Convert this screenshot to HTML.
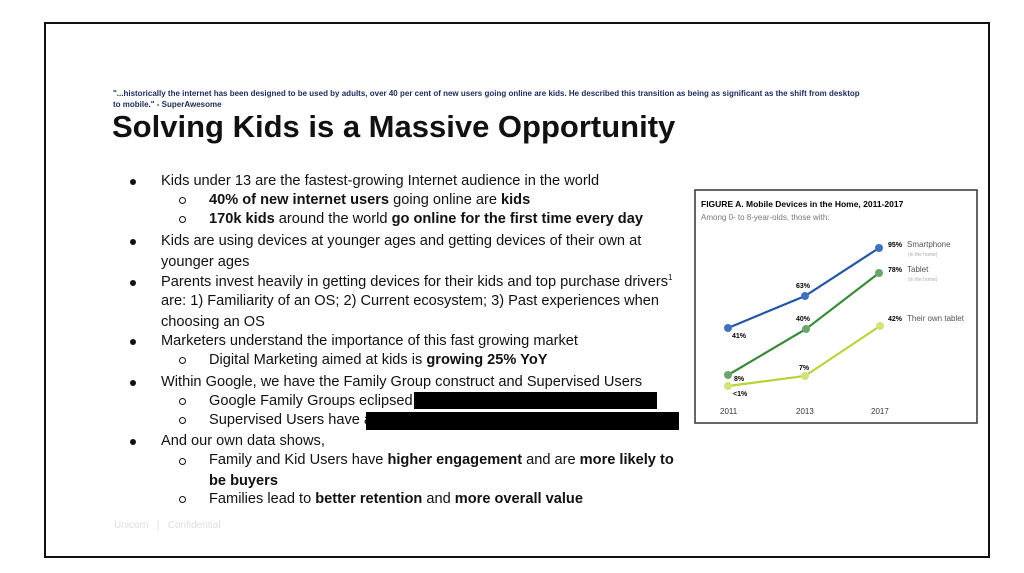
<!DOCTYPE html>
<html><head><style>
body{margin:0;width:1024px;height:573px;background:#fff;position:relative;overflow:hidden;font-family:"Liberation Sans",sans-serif;color:#111}
.frame{position:absolute;left:44px;top:22px;width:942px;height:532px;border:2px solid #111;border-left-width:2px}
.t{position:absolute;white-space:nowrap;font-size:14.6px;line-height:18px}
.b{position:absolute;width:6px;height:6px;border-radius:50%;background:#111}
.c{position:absolute;width:5px;height:5px;border-radius:50%;border:1.3px solid #111}
.r{position:absolute;background:#000}
sup{font-size:8px;line-height:0;vertical-align:6px}
</style></head><body>
<div class="frame"></div>
<div class="t" style="left:113px;top:88px;font-size:8px;line-height:11px;color:#1a2a5a;font-weight:bold">"...historically the internet has been designed to be used by adults, over 40 per cent of new users going online are kids. He described this transition as being as significant as the shift from desktop<br>to mobile." - SuperAwesome</div>
<div class="t" style="left:112px;top:108px;font-size:31px;line-height:38px;font-weight:bold">Solving Kids is a Massive Opportunity</div>

<div class="b" style="left:130px;top:179px"></div><div class="t" style="left:161px;top:172px">Kids under 13 are the fastest-growing Internet audience in the world</div>
<div class="c" style="left:179px;top:197px"></div><div class="t" style="left:209px;top:191px"><b>40% of new internet users</b> going online are <b>kids</b></div>
<div class="c" style="left:179px;top:216px"></div><div class="t" style="left:209px;top:210px"><b>170k kids</b> around the world <b>go online for the first time every day</b></div>
<div class="b" style="left:130px;top:239px"></div><div class="t" style="left:161px;top:232px">Kids are using devices at younger ages and getting devices of their own at</div>
<div class="t" style="left:161px;top:253px">younger ages</div>
<div class="b" style="left:130px;top:280px"></div><div class="t" style="left:161px;top:273px">Parents invest heavily in getting devices for their kids and top purchase drivers<sup>1</sup></div>
<div class="t" style="left:161px;top:292px">are: 1) Familiarity of an OS; 2) Current ecosystem; 3) Past experiences when</div>
<div class="t" style="left:161px;top:313px">choosing an OS</div>
<div class="b" style="left:130px;top:339px"></div><div class="t" style="left:161px;top:332px">Marketers understand the importance of this fast growing market</div>
<div class="c" style="left:179px;top:357px"></div><div class="t" style="left:209px;top:351px">Digital Marketing aimed at kids is <b>growing 25% YoY</b></div>
<div class="b" style="left:130px;top:380px"></div><div class="t" style="left:161px;top:373px">Within Google, we have the Family Group construct and Supervised Users</div>
<div class="c" style="left:179px;top:398px"></div><div class="t" style="left:209px;top:392px">Google Family Groups eclipsed</div>
<div class="r" style="left:414px;top:392px;width:243px;height:17px"></div>
<div class="c" style="left:179px;top:417px"></div><div class="t" style="left:209px;top:411px">Supervised Users have a</div>
<div class="r" style="left:366px;top:412px;width:313px;height:18px"></div>
<div class="b" style="left:130px;top:439px"></div><div class="t" style="left:161px;top:432px">And our own data shows,</div>
<div class="c" style="left:179px;top:458px"></div><div class="t" style="left:209px;top:451px">Family and Kid Users have <b>higher engagement</b> and are <b>more likely to</b></div>
<div class="t" style="left:209px;top:472px"><b>be buyers</b></div>
<div class="c" style="left:179px;top:496px"></div><div class="t" style="left:209px;top:490px">Families lead to <b>better retention</b> and <b>more overall value</b></div>
<div class="t" style="left:114px;top:517px;font-size:10px;color:#ddd">Unicorn &nbsp; | &nbsp; Confidential</div>

<svg style="position:absolute;left:0;top:0" width="1024" height="573">
<rect x="695" y="190" width="282" height="233" fill="#fff" stroke="#333" stroke-width="1.5"/>
<text x="701" y="207" font-size="8.5" font-weight="bold" font-family="Liberation Sans">FIGURE A. Mobile Devices in the Home, 2011-2017</text>
<text x="701" y="220" font-size="8" fill="#777" font-family="Liberation Sans">Among 0- to 8-year-olds, those with:</text>
<g stroke-width="2.2" fill="none">
<polyline points="728,328 805,296 879,248" stroke="#2456a4"/>
<polyline points="728,375 806,329 879,273" stroke="#3a8a3a"/>
<polyline points="728,386 805,376 880,326" stroke="#b6d43a"/>
</g>
<g>
<circle cx="728" cy="328" r="4" fill="#3e72bd"/><circle cx="805" cy="296" r="4" fill="#3e72bd"/><circle cx="879" cy="248" r="4" fill="#3e72bd"/>
<circle cx="728" cy="375" r="4" fill="#6aa56a"/><circle cx="806" cy="329" r="4" fill="#6aa56a"/><circle cx="879" cy="273" r="4" fill="#6aa56a"/>
<circle cx="728" cy="386" r="4" fill="#d0e47a"/><circle cx="805" cy="376" r="4" fill="#d0e47a"/><circle cx="880" cy="326" r="4" fill="#d0e47a"/>
</g>
<g font-size="7" font-weight="bold" font-family="Liberation Sans">
<text x="732" y="338">41%</text><text x="796" y="288">63%</text><text x="888" y="247">95%</text>
<text x="734" y="381">8%</text><text x="796" y="321">40%</text><text x="888" y="272">78%</text>
<text x="733" y="396">&lt;1%</text><text x="799" y="370">7%</text><text x="888" y="321">42%</text>
</g>
<g font-size="8" fill="#555" font-family="Liberation Sans">
<text x="907" y="247">Smartphone</text><text x="908" y="256" font-size="5" fill="#aaa">(in the home)</text>
<text x="907" y="272">Tablet</text><text x="908" y="281" font-size="5" fill="#aaa">(in the home)</text>
<text x="907" y="321">Their own tablet</text>
<text x="720" y="414" fill="#333">2011</text><text x="796" y="414" fill="#333">2013</text><text x="871" y="414" fill="#333">2017</text>
</g>
</svg>
</body></html>
